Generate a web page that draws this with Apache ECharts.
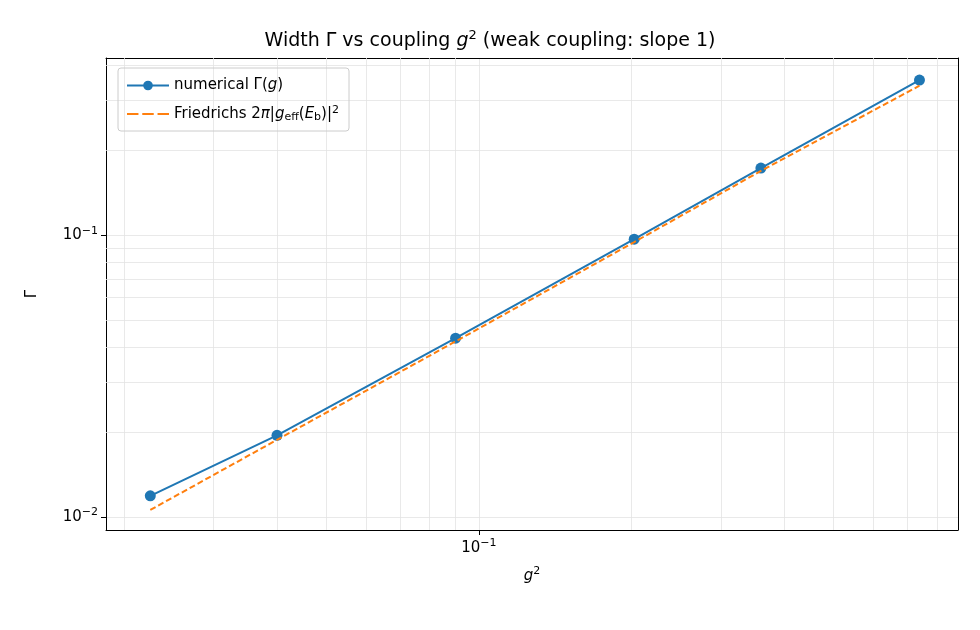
<!DOCTYPE html>
<html>
<head>
<meta charset="utf-8">
<script src="https://cdn.jsdelivr.net/npm/echarts@6/dist/echarts.min.js"></script>
<style>html,body{margin:0;padding:0;background:#fff}#main{width:980px;height:630px}</style>
</head>
<body>
<div id="main"></div>
<script>
// data
var gSquared = [0.0225, 0.04, 0.09, 0.2025, 0.36, 0.7396];
var widthNumerical = [0.0119, 0.0195, 0.0431, 0.0968, 0.173, 0.355];
var widthFriedrichs = [0.0106, 0.0188, 0.042, 0.0945, 0.169, 0.339];
// minor grid values
var minorX = [0.02, 0.03, 0.04, 0.05, 0.06, 0.07, 0.08, 0.09, 0.2, 0.3, 0.4, 0.5, 0.6, 0.7, 0.8];
var minorY = [0.02, 0.03, 0.04, 0.05, 0.06, 0.07, 0.08, 0.09, 0.2, 0.3, 0.4];

var myChart = echarts.init(document.getElementById('main'));

function pairs(xs, ys) { return xs.map(function (x, i) { return [x, ys[i]]; }); }
function powLabel(v) {
    var l = Math.log10(v), e = Math.round(l);
    if (Math.abs(l - e) > 1e-6) return '';
    return '10{s|' + (e < 0 ? '\u2212' + (-e) : e) + '}';
}
var labelRich = { s: { fontSize: 11, verticalAlign: 'top', padding: [0, 0, 9, 0], color: '#000', fontFamily: 'DejaVu Sans' } };
var gridLine = { color: '#e3e3e3', width: 0.8, type: 'solid' };
var minorLines = minorX.map(function (v) { return { xAxis: v }; })
    .concat(minorY.map(function (v) { return { yAxis: v }; }));

var option = {
    animation: false,
    title: {
        text: 'Width \u0393 vs coupling {i|g}{s|2} (weak coupling: slope 1)',
        left: 'center', top: 24,
        textStyle: {
            fontFamily: 'DejaVu Sans', fontSize: 19, fontWeight: 'normal', color: '#000',
            rich: {
                i: { fontFamily: 'DejaVu Sans', fontStyle: 'italic', fontSize: 19, color: '#000' },
                s: { fontFamily: 'DejaVu Sans', fontSize: 13, verticalAlign: 'top', padding: [0, 0, 12, 0], color: '#000' }
            }
        }
    },
    legend: {
        left: 118, top: 68, orient: 'vertical',
        itemWidth: 42, itemHeight: 12, itemGap: 12,
        padding: [10, 10, 8, 8],
        borderColor: '#cccccc', borderWidth: 1, borderRadius: 3,
        data: [{ name: 'numerical' }, { name: 'friedrichs', icon: 'path://M0,5 L12,5 L12,7 L0,7 Z M16,5 L28,5 L28,7 L16,7 Z M32,5 L44,5 L44,7 L32,7 Z' }],
        formatter: function (n) {
            return n === 'numerical' ? 'numerical \u0393({i|g})' :
                'Friedrichs 2{i|\u03c0}|{i|g}{sub|eff}({i|E}{sub|b})|{s|2}';
        },
        textStyle: {
            fontFamily: 'DejaVu Sans', fontSize: 15, color: '#000',
            rich: {
                i: { fontStyle: 'italic', fontSize: 15, fontFamily: 'DejaVu Sans' },
                sub: { fontSize: 11, verticalAlign: 'bottom', padding: [7, 0, 0, 0], fontFamily: 'DejaVu Sans' },
                s: { fontSize: 11, verticalAlign: 'top', padding: [0, 0, 7, 0], fontFamily: 'DejaVu Sans' }
            }
        }
    },
    grid: { left: 106, right: 22, top: 58, bottom: 100 },
    xAxis: [{
        type: 'log', logBase: 10, min: 0.0184, max: 0.881,
        name: '{i|g}{s|2}', nameLocation: 'middle', nameGap: 36,
        nameTextStyle: { fontFamily: 'DejaVu Sans', fontSize: 15, color: '#000',
            rich: { i: { fontStyle: 'italic', fontSize: 15, fontFamily: 'DejaVu Sans' }, s: { fontSize: 11, verticalAlign: 'top', padding: [0, 0, 9, 0], fontFamily: 'DejaVu Sans' } } },
        axisLine: { lineStyle: { color: '#000', width: 1 } },
        axisTick: { inside: false, length: 5, lineStyle: { color: '#000' } },
        axisLabel: { formatter: powLabel, color: '#000', fontFamily: 'DejaVu Sans', fontSize: 15, rich: labelRich, showMinLabel: false, showMaxLabel: false },
        splitLine: { show: true, lineStyle: gridLine }
    }, {
        type: 'log', position: 'top', min: 0.0184, max: 0.881,
        axisLine: { show: true, lineStyle: { color: '#000', width: 1 } },
        axisTick: { show: false }, axisLabel: { show: false }, splitLine: { show: false }
    }],
    yAxis: [{
        type: 'log', logBase: 10, min: 0.009, max: 0.425,
        name: '\u0393', nameLocation: 'middle', nameGap: 66,
        nameTextStyle: { fontFamily: 'DejaVu Sans', fontSize: 15, color: '#000' },
        axisLine: { show: true, lineStyle: { color: '#000', width: 1 } },
        axisTick: { show: true, length: 5, lineStyle: { color: '#000' } },
        axisLabel: { formatter: powLabel, color: '#000', fontFamily: 'DejaVu Sans', fontSize: 15, rich: labelRich, showMinLabel: false, showMaxLabel: false },
        splitLine: { show: true, lineStyle: gridLine }
    }, {
        type: 'log', position: 'right', min: 0.009, max: 0.425,
        axisLine: { show: true, lineStyle: { color: '#000', width: 1 } },
        axisTick: { show: false }, axisLabel: { show: false }, splitLine: { show: false }
    }],
    series: [
        {
            name: 'numerical', type: 'line', data: pairs(gSquared, widthNumerical),
            symbol: 'circle', symbolSize: 11,
            itemStyle: { color: '#1f77b4' }, lineStyle: { color: '#1f77b4', width: 2 },
            z: 3,
            markLine: { silent: true, symbol: 'none', label: { show: false },
                lineStyle: gridLine, data: minorLines, z: 1 }
        },
        {
            name: 'friedrichs', type: 'line', data: pairs(gSquared, widthFriedrichs),
            showSymbol: false, symbol: 'none',
            itemStyle: { color: '#ff7f0e' }, lineStyle: { color: '#ff7f0e', width: 2, type: [6, 3] },
            z: 4
        }
    ]
};

myChart.setOption(option);
</script>
</body>
</html>
